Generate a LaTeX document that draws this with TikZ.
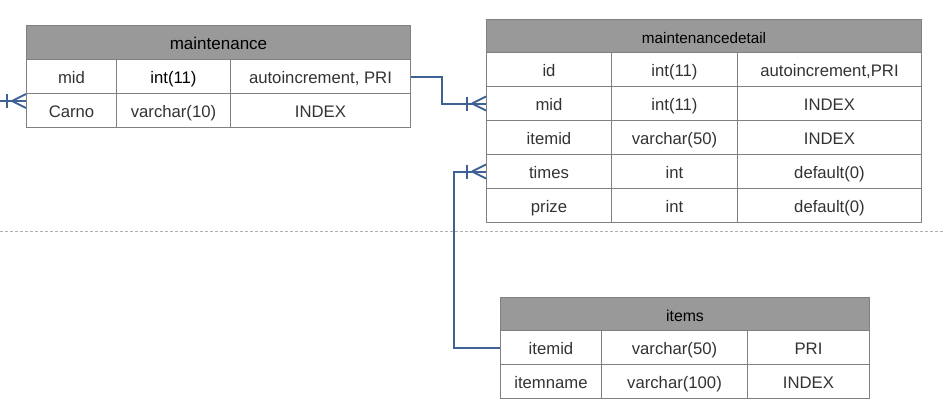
\documentclass[tikz,border=0pt]{standalone}
\usepackage{fontspec}
\setmainfont{Liberation Sans}
\definecolor{hdr}{HTML}{999999}
\definecolor{bord}{HTML}{808080}
\definecolor{txt}{HTML}{333333}
\definecolor{conn}{HTML}{3E6296}
\definecolor{dashc}{HTML}{B0B0B0}
\tikzset{
  cellbox/.style={draw=bord, line width=1pt, fill=white, anchor=north west, inner sep=0pt,
    text=txt, font=\fontsize{16.7}{19}\selectfont, text height=15pt, text depth=0.4pt},
  hdrbox/.style={cellbox, fill=hdr, text=black},
  connline/.style={draw=conn, line width=2pt},
}
% \cellat{name}{x1}{y1}{x2}{y2}{style}{text}
\newcommand{\cellat}[7]{%
  \node[#6, minimum width={(#4-#2)*1pt}, minimum height={(#5-#3)*1pt}] (#1) at (#2,#3) {#7};}
\begin{document}
\begin{tikzpicture}[x=1pt,y=-1pt]
\useasboundingbox (0,0) rectangle (945,415);
% separator
\draw[dashc, line width=1pt, dash pattern=on 3pt off 2pt] (0,231) coordinate (dl) -- (945,231) coordinate (dr);
% maintenance
\cellat{mh}{26}{25}{410}{59}{hdrbox,font=\fontsize{17}{19}\selectfont}{maintenance}
\cellat{m11}{26}{59}{116}{93}{cellbox}{mid}
\cellat{m12}{116}{59}{230}{93}{cellbox,text=black}{int(11)}
\cellat{m13}{230}{59}{410}{93}{cellbox}{autoincrement, PRI}
\cellat{m21}{26}{93}{116}{127}{cellbox}{Carno}
\cellat{m22}{116}{93}{230}{127}{cellbox}{varchar(10)}
\cellat{m23}{230}{93}{410}{127}{cellbox}{INDEX}
% maintenancedetail
\cellat{dh}{486}{19}{921}{52}{hdrbox,font=\fontsize{15.3}{17}\selectfont}{maintenancedetail}
\cellat{d11}{486}{52}{611}{86}{cellbox}{id}
\cellat{d12}{611}{52}{737}{86}{cellbox}{int(11)}
\cellat{d13}{737}{52}{921}{86}{cellbox}{autoincrement,PRI}
\cellat{d21}{486}{86}{611}{120}{cellbox}{mid}
\cellat{d22}{611}{86}{737}{120}{cellbox}{int(11)}
\cellat{d23}{737}{86}{921}{120}{cellbox}{INDEX}
\cellat{d31}{486}{120}{611}{154}{cellbox}{itemid}
\cellat{d32}{611}{120}{737}{154}{cellbox}{varchar(50)}
\cellat{d33}{737}{120}{921}{154}{cellbox}{INDEX}
\cellat{d41}{486}{154}{611}{188}{cellbox}{times}
\cellat{d42}{611}{154}{737}{188}{cellbox}{int}
\cellat{d43}{737}{154}{921}{188}{cellbox}{default(0)}
\cellat{d51}{486}{188}{611}{222}{cellbox}{prize}
\cellat{d52}{611}{188}{737}{222}{cellbox}{int}
\cellat{d53}{737}{188}{921}{222}{cellbox}{default(0)}
% items
\cellat{ih}{500}{297}{869}{330}{hdrbox,font=\fontsize{15.8}{18}\selectfont}{items}
\cellat{i11}{500}{330}{601}{364}{cellbox}{itemid}
\cellat{i12}{601}{330}{747}{364}{cellbox}{varchar(50)}
\cellat{i13}{747}{330}{869}{364}{cellbox}{PRI}
\cellat{i21}{500}{364}{601}{398}{cellbox}{itemname}
\cellat{i22}{601}{364}{747}{398}{cellbox}{varchar(100)}
\cellat{i23}{747}{364}{869}{398}{cellbox}{INDEX}
% connectors
\draw[connline] (m13.east) -- ++(31,0) |- (d21.west);
\draw[connline] (i11.west) -- ++(-46,0) |- (d41.west);
\coordinate (lend) at (26,101);
\coordinate (lstart) at (0,101);
\draw[connline] (lstart) -- (lend);
% crow's feet
\foreach \t in {d21.west, d41.west, lend}{
  \draw[connline] ([shift={(-14,0)}]\t) -- ([shift={(0,-7)}]\t);
  \draw[connline] ([shift={(-14,0)}]\t) -- ([shift={(0,7)}]\t);
  \draw[connline] ([shift={(-19,-7)}]\t) -- ([shift={(-19,7)}]\t);
}
\end{tikzpicture}
\end{document}
